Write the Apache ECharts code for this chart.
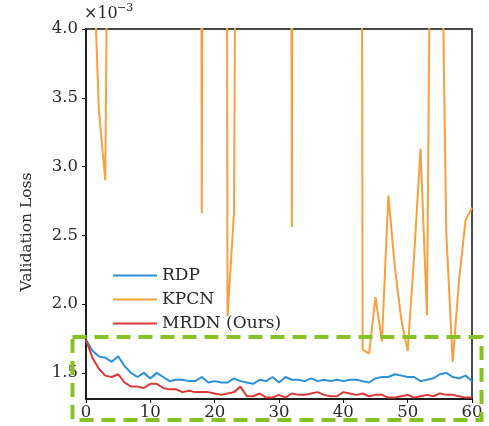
<!DOCTYPE html>
<html>
<head>
<meta charset="utf-8">
<script src="https://cdn.jsdelivr.net/npm/echarts@6/dist/echarts.min.js"></script>
<style>
  html, body { margin: 0; padding: 0; background: #fff; }
  #chart { width: 489px; height: 426px; }
</style>
</head>
<body>
<div id="chart"></div>
<script>
// Validation loss per epoch (values in units of 1e-3)
const epochs = [0,1,2,3,4,5,6,7,8,9,10,11,12,13,14,15,16,17,18,19,20,
  21,22,23,24,25,26,27,28,29,30,31,32,33,34,35,36,37,38,39,40,
  41,42,43,44,45,46,47,48,49,50,51,52,53,54,55,56,57,58,59,60];

const rdp = [1.74,1.66,1.62,1.61,1.58,1.62,1.55,1.50,1.47,1.50,1.46,
  1.50,1.47,1.44,1.45,1.45,1.44,1.44,1.47,1.43,1.44,
  1.43,1.43,1.46,1.44,1.43,1.42,1.45,1.44,1.47,1.43,
  1.47,1.45,1.45,1.44,1.46,1.44,1.45,1.44,1.45,1.44,
  1.45,1.45,1.44,1.43,1.46,1.47,1.47,1.49,1.48,1.47,
  1.47,1.44,1.45,1.46,1.49,1.50,1.47,1.46,1.48,1.44];

const kpcn = [6.5,4.73,3.41,2.90,8.7,12.0,15.0,14.0,18.0,16.0,20.0,
  17.0,19.0,15.0,16.0,18.0,14.0,25.0,2.66,25.0,18.0,
  30.0,1.91,2.66,11.6,16.0,14.0,19.0,17.0,15.0,20.0,
  28.0,2.56,28.0,18.0,16.0,21.0,15.0,17.0,19.0,22.0,
  20.0,30.0,1.67,1.64,2.05,1.73,2.79,2.27,1.89,1.66,
  2.35,3.13,1.92,7.7,5.8,2.52,1.58,2.18,2.61,2.70];

const mrdn = [1.74,1.61,1.53,1.48,1.47,1.49,1.43,1.40,1.40,1.39,1.42,
  1.42,1.39,1.38,1.38,1.36,1.37,1.36,1.36,1.36,1.35,
  1.34,1.35,1.36,1.40,1.33,1.33,1.35,1.32,1.32,1.34,
  1.32,1.35,1.34,1.34,1.35,1.36,1.34,1.33,1.33,1.36,
  1.35,1.34,1.35,1.33,1.34,1.34,1.32,1.32,1.33,1.34,
  1.32,1.33,1.34,1.33,1.35,1.34,1.34,1.33,1.32,1.32];

const yTicks = [1.5, 2.0, 2.5, 3.0, 3.5, 4.0];
const xTicks = [0, 10, 20, 30, 40, 50, 60];

const pair = (ys) => epochs.map((e, i) => [e, ys[i]]);
const serif = '"DejaVu Serif", "Liberation Serif", serif';

const chart = echarts.init(document.getElementById('chart'), null, { renderer: 'canvas' });

chart.setOption({
  animation: false,
  backgroundColor: '#fff',
  grid: {
    left: 86, right: 17, top: 29, bottom: 27,
    show: true, borderColor: '#111', borderWidth: 1.5,
    backgroundColor: 'transparent'
  },
  xAxis: {
    type: 'value', min: 0, max: 60, interval: 10,
    axisLine: { show: true, onZero: false, lineStyle: { color: '#111', width: 1.5 } },
    axisTick: { show: true, length: 4, lineStyle: { color: '#111' } },
    axisLabel: { color: '#2a2a2a', fontFamily: serif, fontSize: 16.5, margin: 5,
      customValues: xTicks },
    splitLine: { show: false }
  },
  yAxis: {
    type: 'value', min: 1.31, max: 4.0,
    axisLine: { show: true, onZero: false, lineStyle: { color: '#111', width: 1.5 } },
    axisTick: { show: true, length: 4, lineStyle: { color: '#111' }, customValues: yTicks },
    axisLabel: { color: '#2a2a2a', fontFamily: serif, fontSize: 16.5, margin: 8,
      customValues: yTicks, formatter: (v) => v.toFixed(1) },
    splitLine: { show: false }
  },
  legend: {
    orient: 'vertical', left: 108, top: 262,
    itemWidth: 44, itemHeight: 12, itemGap: 7,
    icon: 'path://M0,5 L44,5 L44,7 L0,7 Z',
    textStyle: { fontFamily: serif, fontSize: 17, color: '#2a2a2a' },
    data: ['RDP', 'KPCN', 'MRDN (Ours)']
  },
  series: [
    { name: 'RDP', type: 'line', data: pair(rdp), symbol: 'none', clip: true,
      color: '#2b8fdc', lineStyle: { width: 2 }, z: 3 },
    { name: 'KPCN', type: 'line', data: pair(kpcn), symbol: 'none', clip: true,
      color: '#f7a040', lineStyle: { width: 2 }, z: 2 },
    { name: 'MRDN (Ours)', type: 'line', data: pair(mrdn), symbol: 'none', clip: true,
      color: '#d83a34', lineStyle: { width: 2 }, z: 4 }
  ],
  graphic: [
    { type: 'text', left: 84, top: 6,
      style: { text: '×10', fontFamily: serif, fontSize: 16, fill: '#2a2a2a' } },
    { type: 'text', left: 117, top: 3,
      style: { text: '−3', fontFamily: serif, fontSize: 11, fill: '#2a2a2a' } },
    { type: 'text', x: 27, y: 232, rotation: Math.PI / 2,
      style: { text: 'Validation Loss', fontFamily: serif, fontSize: 15.5, fill: '#2a2a2a',
        align: 'center', verticalAlign: 'middle' } },
    { type: 'rect', shape: { x: 72.5, y: 337, width: 409, height: 83 },
      style: { fill: 'none', stroke: '#86c226', lineWidth: 4, lineDash: [14, 8] }, z: 10 }
  ]
});
</script>
</body>
</html>
